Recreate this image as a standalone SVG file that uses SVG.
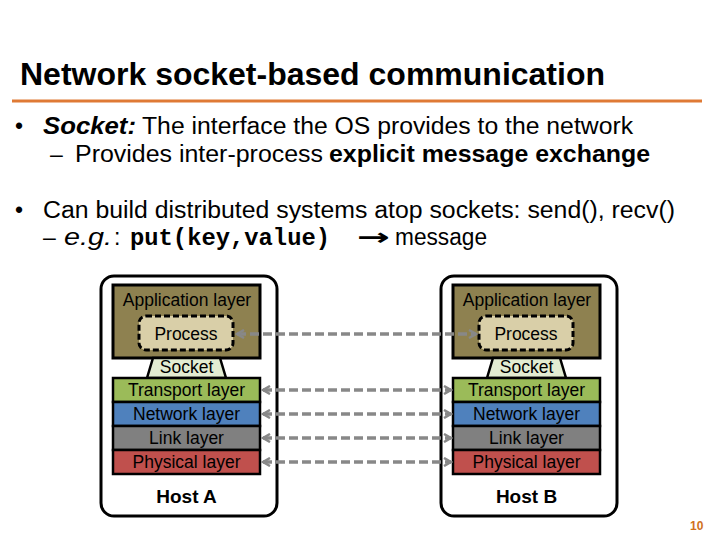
<svg xmlns="http://www.w3.org/2000/svg" width="720" height="540" viewBox="0 0 720 540">
<style>
text{font-family:"Liberation Sans",Arial,sans-serif;fill:#000}
.body{font-size:23px}
.lbl{font-size:17.5px;text-anchor:middle}
.host{font-size:19px;font-weight:bold;text-anchor:middle}
.outer{fill:#fff;stroke:#000;stroke-width:3}
.app{fill:#8e8150;stroke:#000;stroke-width:3}
.proc{fill:#d9cfa8;stroke:#000;stroke-width:3;stroke-dasharray:6 3}
.sock{fill:#e3ecd2;stroke:#000;stroke-width:2.5}
.lay{stroke:#000;stroke-width:2.5}
.conn{stroke:#888;stroke-width:3.5;stroke-dasharray:9 4;fill:none}
</style>
<defs>
<marker id="ah" viewBox="0 0 10 10" refX="8" refY="5" markerWidth="10" markerHeight="10" markerUnits="userSpaceOnUse" orient="auto-start-reverse">
<path d="M1,1 L8,5 L1,9" fill="none" stroke="#888" stroke-width="2.5"/>
</marker>
</defs>
<rect width="720" height="540" fill="#fff"/>
<text x="20" y="85" font-size="31" font-weight="bold" textLength="585" lengthAdjust="spacingAndGlyphs">Network socket-based communication</text>
<line x1="12" y1="101" x2="702" y2="101" stroke="#df7a35" stroke-width="3"/>
<text class="body" y="134"><tspan x="15">•</tspan><tspan x="43" font-weight="bold" font-style="italic" textLength="93" lengthAdjust="spacingAndGlyphs">Socket:</tspan><tspan x="142" textLength="491" lengthAdjust="spacingAndGlyphs">The interface the OS provides to the network</tspan></text>
<text class="body" y="162"><tspan x="50">–</tspan><tspan x="75" textLength="248" lengthAdjust="spacingAndGlyphs">Provides inter-process</tspan><tspan x="329" font-weight="bold" textLength="321" lengthAdjust="spacingAndGlyphs">explicit message exchange</tspan></text>
<text class="body" y="218"><tspan x="15">•</tspan><tspan x="43" textLength="632" lengthAdjust="spacingAndGlyphs">Can build distributed systems atop sockets: send(), recv()</tspan></text>
<text class="body" y="245"><tspan x="43">–</tspan><tspan x="64" font-style="italic" textLength="48" lengthAdjust="spacingAndGlyphs">e.g.</tspan><tspan x="114">:</tspan><tspan x="130" font-family="Liberation Mono,monospace" font-weight="bold" textLength="200" lengthAdjust="spacingAndGlyphs">put(key,value)</tspan><tspan x="357" font-family="DejaVu Sans,sans-serif" font-weight="bold" textLength="33" lengthAdjust="spacingAndGlyphs">→</tspan><tspan x="395" textLength="92" lengthAdjust="spacingAndGlyphs">message</tspan></text>

<g id="hostA">
<rect class="outer" x="101" y="276" width="176" height="240" rx="13"/>
<rect class="app" x="113" y="285" width="147" height="73"/>
<text class="lbl" x="187" y="306">Application layer</text>
<rect class="proc" x="139" y="316" width="94" height="34" rx="7"/>
<text class="lbl" x="186" y="340">Process</text>
<path class="sock" d="M153,358 L220,358 L226,378 L147,378 Z"/>
<text class="lbl" x="186.5" y="373">Socket</text>
<rect class="lay" x="113" y="378" width="147" height="24" fill="#9bbb59"/>
<text class="lbl" x="186.5" y="396">Transport layer</text>
<rect class="lay" x="113" y="402" width="147" height="24" fill="#4f81bd"/>
<text class="lbl" x="186.5" y="420">Network layer</text>
<rect class="lay" x="113" y="426" width="147" height="24" fill="#808080"/>
<text class="lbl" x="186.5" y="444">Link layer</text>
<rect class="lay" x="113" y="450" width="147" height="24" fill="#c0504d"/>
<text class="lbl" x="186.5" y="468">Physical layer</text>
<text class="host" x="186.5" y="503">Host A</text>
</g>

<g id="hostB">
<rect class="outer" x="441" y="276" width="176" height="240" rx="13"/>
<rect class="app" x="453" y="285" width="147" height="73"/>
<text class="lbl" x="527" y="306">Application layer</text>
<rect class="proc" x="479" y="316" width="94" height="34" rx="7"/>
<text class="lbl" x="526" y="340">Process</text>
<path class="sock" d="M493,358 L560,358 L566,378 L487,378 Z"/>
<text class="lbl" x="526.5" y="373">Socket</text>
<rect class="lay" x="453" y="378" width="147" height="24" fill="#9bbb59"/>
<text class="lbl" x="526.5" y="396">Transport layer</text>
<rect class="lay" x="453" y="402" width="147" height="24" fill="#4f81bd"/>
<text class="lbl" x="526.5" y="420">Network layer</text>
<rect class="lay" x="453" y="426" width="147" height="24" fill="#808080"/>
<text class="lbl" x="526.5" y="444">Link layer</text>
<rect class="lay" x="453" y="450" width="147" height="24" fill="#c0504d"/>
<text class="lbl" x="526.5" y="468">Physical layer</text>
<text class="host" x="526.5" y="503">Host B</text>
</g>

<g id="connectors">
<line class="conn" x1="237" y1="334" x2="476" y2="334" marker-start="url(#ah)" marker-end="url(#ah)"/>
<line class="conn" x1="263" y1="390" x2="451" y2="390" marker-start="url(#ah)" marker-end="url(#ah)"/>
<line class="conn" x1="263" y1="414" x2="451" y2="414" marker-start="url(#ah)" marker-end="url(#ah)"/>
<line class="conn" x1="263" y1="438" x2="451" y2="438" marker-start="url(#ah)" marker-end="url(#ah)"/>
<line class="conn" x1="263" y1="462" x2="451" y2="462" marker-start="url(#ah)" marker-end="url(#ah)"/>
</g>
<text x="690" y="530" font-size="12" font-weight="bold" style="fill:#d0711e">10</text>
</svg>
